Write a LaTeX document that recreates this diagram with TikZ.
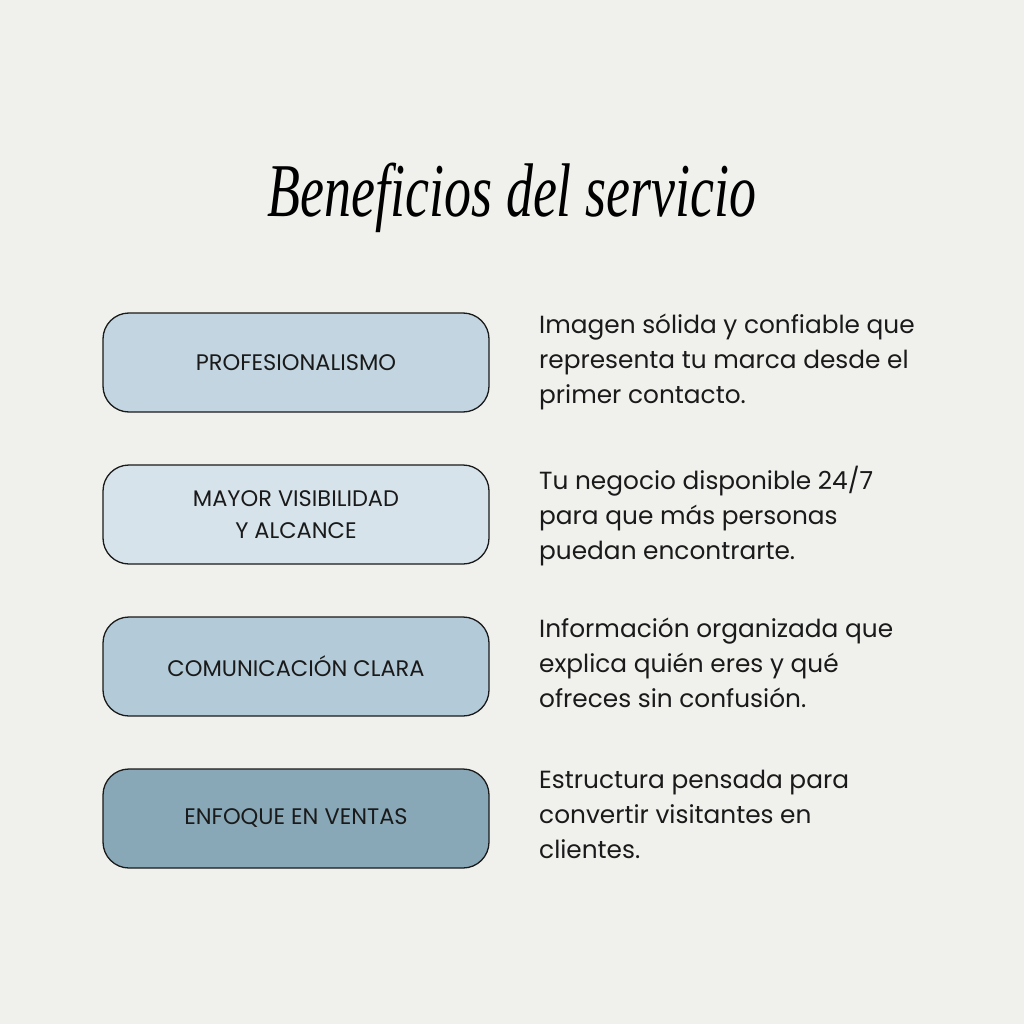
\documentclass[tikz,border=0pt]{standalone}
\usepackage{fontspec}
\setmainfont{Poppins}
\newfontfamily\titlefont{Liberation Serif}
\definecolor{bg}{HTML}{F0F0EC}
\definecolor{ba}{HTML}{C2D5E0}
\definecolor{bb}{HTML}{D6E3EB}
\definecolor{bc}{HTML}{B3CAD8}
\definecolor{bd}{HTML}{88A8B8}
\definecolor{ink}{HTML}{1A1A1A}
\begin{document}
\begin{tikzpicture}[x=1pt,y=-1pt,
  box/.style={draw=ink,line width=1.3pt,rounded corners=26pt,minimum width=386pt,minimum height=99pt,inner sep=0pt,font=\fontsize{22.5}{32}\selectfont,align=center,text=ink},
  desc/.style={anchor=north west,align=left,font=\fontsize{24.8}{35}\selectfont,text=ink,inner sep=0pt}]
\fill[bg] (0,0) rectangle (1024,1024);
\useasboundingbox (0,0) rectangle (1024,1024);
\node (title) at (512,198) {\scalebox{0.71}[1]{\titlefont\itshape\fontsize{76}{80}\selectfont Beneficios del servicio}};
\node[box,fill=ba] (b1) at (296,362.5) {PROFESIONALISMO};
\node[box,fill=bb] (b2) at (296,514.5) {MAYOR VISIBILIDAD\\Y ALCANCE};
\node[box,fill=bc] (b3) at (296,666.5) {COMUNICACIÓN CLARA};
\node[box,fill=bd] (b4) at (296,818.5) {ENFOQUE EN VENTAS};
\node[desc] (d1) at (539,314) {Imagen sólida y confiable que\\representa tu marca desde el\\primer contacto.};
\node[desc] (d2) at (539,466) {Tu negocio disponible 24/7\\para que más personas\\puedan encontrarte.};
\node[desc] (d3) at (539,618) {Información organizada que\\explica quién eres y qué\\ofreces sin confusión.};
\node[desc] (d4) at (539,770) {Estructura pensada para\\convertir visitantes en\\clientes.};
\end{tikzpicture}
\end{document}
